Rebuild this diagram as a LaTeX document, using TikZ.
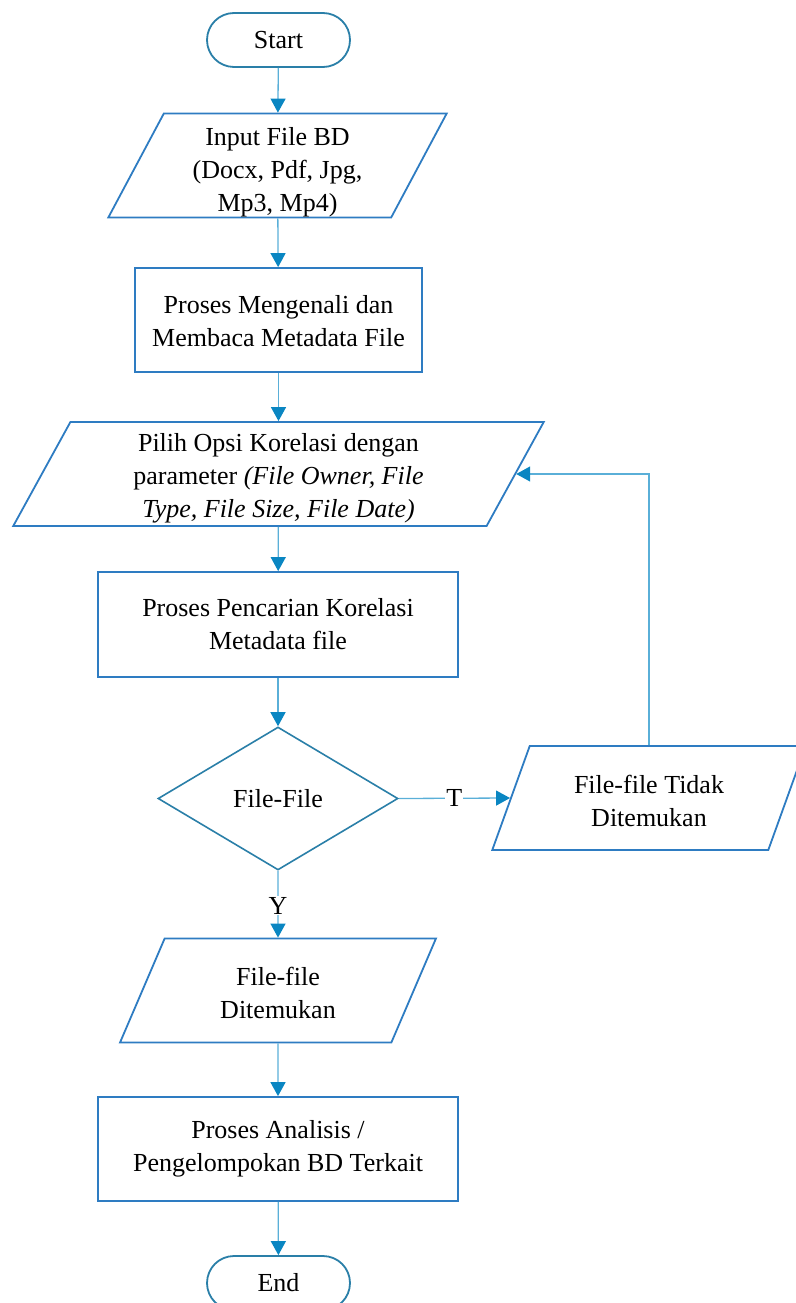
\documentclass[tikz,border=0pt]{standalone}
\usepackage{fontspec}
\setmainfont{Liberation Serif}
\usetikzlibrary{shapes.geometric,arrows.meta}
\definecolor{shapeblue}{HTML}{2E7CC2}
\definecolor{termblue}{HTML}{2A7FA8}
\definecolor{lineblue}{HTML}{5AAFD8}
\definecolor{tipblue}{HTML}{0A86C2}
% invisible strut that lowers the text block inside a shape
\newcommand\toppad[1]{\rule{0pt}{#1pt}}
\tikzset{
  base/.style={align=center, inner sep=0pt, font=\fontsize{26}{33}\selectfont, fill=white},
  terminal/.style={base, draw=termblue, line width=1.8pt, rectangle, rounded corners=27pt,
    minimum width=143pt, minimum height=54pt},
  process/.style={base, draw=shapeblue, line width=1.8pt, rectangle, minimum height=104pt},
  io/.style={base, draw=shapeblue, line width=1.8pt, trapezium, trapezium left angle=68,
    trapezium right angle=112, trapezium stretches=true, minimum height=104pt},
  decision/.style={base, draw=termblue, line width=1.6pt, diamond, aspect=1.68,
    minimum width=240pt, minimum height=143pt},
  flow/.style={draw=lineblue, line width=1.3pt,
    -{Triangle[length=14pt,width=15pt,fill=tipblue,color=tipblue]}},
  lbl/.style={fill=white, inner sep=1pt, font=\fontsize{26}{33}\selectfont}
}
\begin{document}
\begin{tikzpicture}[x=1pt,y=1pt]
  \useasboundingbox (0,0) rectangle (795,-1303);

  \node[terminal] (start) at (278.5,-40) {Start};
  \node[io, minimum width=339pt] (input) at (277.5,-165.5)
    {\toppad{31}Input File BD\\(Docx, Pdf, Jpg,\\Mp3, Mp4)};
  \node[process, minimum width=287pt] (read) at (278.5,-320)
    {\toppad{21}Proses Mengenali dan\\Membaca Metadata File};
  \node[io, minimum width=531pt] (opt) at (278.5,-474)
    {\toppad{27}Pilih Opsi Korelasi dengan\\parameter \textit{(File Owner, File}\\\textit{Type, File Size, File Date)}};
  \node[process, minimum width=360pt, minimum height=105pt] (search) at (278,-624.5)
    {Proses Pencarian Korelasi\\Metadata file};
  \node[decision] (dec) at (278,-798.5) {File-File};
  \node[io, minimum width=314pt] (notfound) at (649,-798)
    {\toppad{25}File-file Tidak\\Ditemukan};
  \node[io, minimum width=316pt] (found) at (278,-990.5)
    {\toppad{23}File-file\\Ditemukan};
  \node[process, minimum width=360pt] (group) at (278,-1149)
    {Proses Analisis /\\Pengelompokan BD Terkait};
  \node[terminal] (stop) at (278.5,-1283) {End};

  \draw[flow] (start) -- (input);
  \draw[flow] (input) -- (read);
  \draw[flow] (read) -- (opt);
  \draw[flow] (opt) -- (search);
  \draw[flow] (search) -- (dec);
  \draw[flow] (dec.east) -- node[lbl, pos=0.5] {T} (notfound.west);
  \draw[flow] (dec.south) -- node[lbl, pos=0.52] {Y} (found.north);
  \draw[flow] (found) -- (group);
  \draw[flow] (group) -- (stop);
  \draw[flow] (notfound.north) |- (opt.east);
\end{tikzpicture}
\end{document}
